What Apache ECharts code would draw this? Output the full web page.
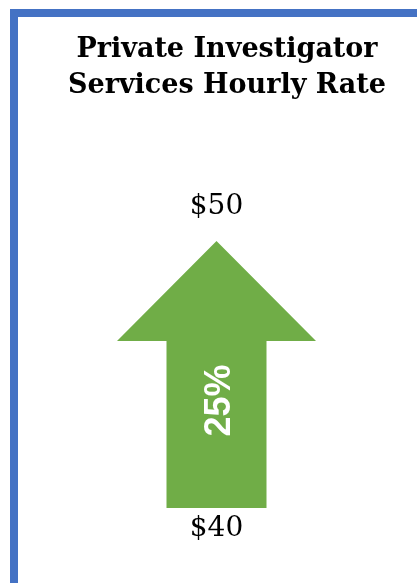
<!DOCTYPE html>
<html>
<head>
<meta charset="utf-8">
<script src="https://cdn.jsdelivr.net/npm/echarts@6/dist/echarts.min.js"></script>
<style>
  html, body { margin: 0; padding: 0; background: #fff; }
  #chartmain { width: 417px; height: 583px; }
</style>
</head>
<body>
<div id="chartmain"></div>
<script>
var categories = ['Hourly Rate'];
var startValues = [40];
var endValues = [50];
var changeLabels = ['25%'];

var chart = echarts.init(document.getElementById('chartmain'));

var seriesData = categories.map(function (c, i) {
  return [i, startValues[i], endValues[i]];
});

function renderArrow(params, api) {
  var i = api.value(0);
  var base = api.coord([i, api.value(1)]);
  var tip = api.coord([i, api.value(2)]);
  var cx = base[0];
  var headHalf = 99.5;
  var shaftHalf = 50;
  var headH = 100;
  var neckY = tip[1] + headH;
  var pts = [
    [cx, tip[1]],
    [cx + headHalf, neckY],
    [cx + shaftHalf, neckY],
    [cx + shaftHalf, base[1]],
    [cx - shaftHalf, base[1]],
    [cx - shaftHalf, neckY],
    [cx - headHalf, neckY]
  ];
  return {
    type: 'group',
    children: [
      { type: 'polygon', shape: { points: pts }, style: { fill: '#70AD47' } },
      {
        type: 'text', x: cx, y: tip[1] - 34,
        style: { text: '$' + api.value(2), fill: '#000', font: '28px "DejaVu Serif"', align: 'center', verticalAlign: 'middle' }
      },
      {
        type: 'text', x: cx, y: base[1] + 21,
        style: { text: '$' + api.value(1), fill: '#000', font: '28px "DejaVu Serif"', align: 'center', verticalAlign: 'middle' }
      },
      {
        type: 'text', x: cx + 4, y: (neckY + base[1]) / 2 - 24, rotation: Math.PI / 2,
        style: { text: changeLabels[params.dataIndex], fill: '#fff', font: 'bold 36px "Liberation Sans"', align: 'center', verticalAlign: 'middle' }
      }
    ]
  };
}

var option = {
  animation: false,
  title: {
    text: 'Private Investigator\nServices Hourly Rate',
    left: 222,
    top: 27,
    textAlign: 'center',
    textStyle: { fontFamily: 'DejaVu Serif', fontWeight: 'bold', fontSize: 27, lineHeight: 36, color: '#000' }
  },
  graphic: [
    { type: 'rect', shape: { x: 10, y: 9, width: 8, height: 574 }, style: { fill: '#4472C4' } },
    { type: 'rect', shape: { x: 10, y: 9, width: 407, height: 8 }, style: { fill: '#4472C4' } }
  ],
  grid: { left: 116.5, right: 100.5, top: 241, bottom: 75 },
  xAxis: { type: 'category', data: categories, show: false },
  yAxis: { type: 'value', min: 40, max: 50, show: false },
  series: [{
    type: 'custom',
    renderItem: renderArrow,
    data: seriesData
  }]
};
chart.setOption(option);
</script>
</body>
</html>
